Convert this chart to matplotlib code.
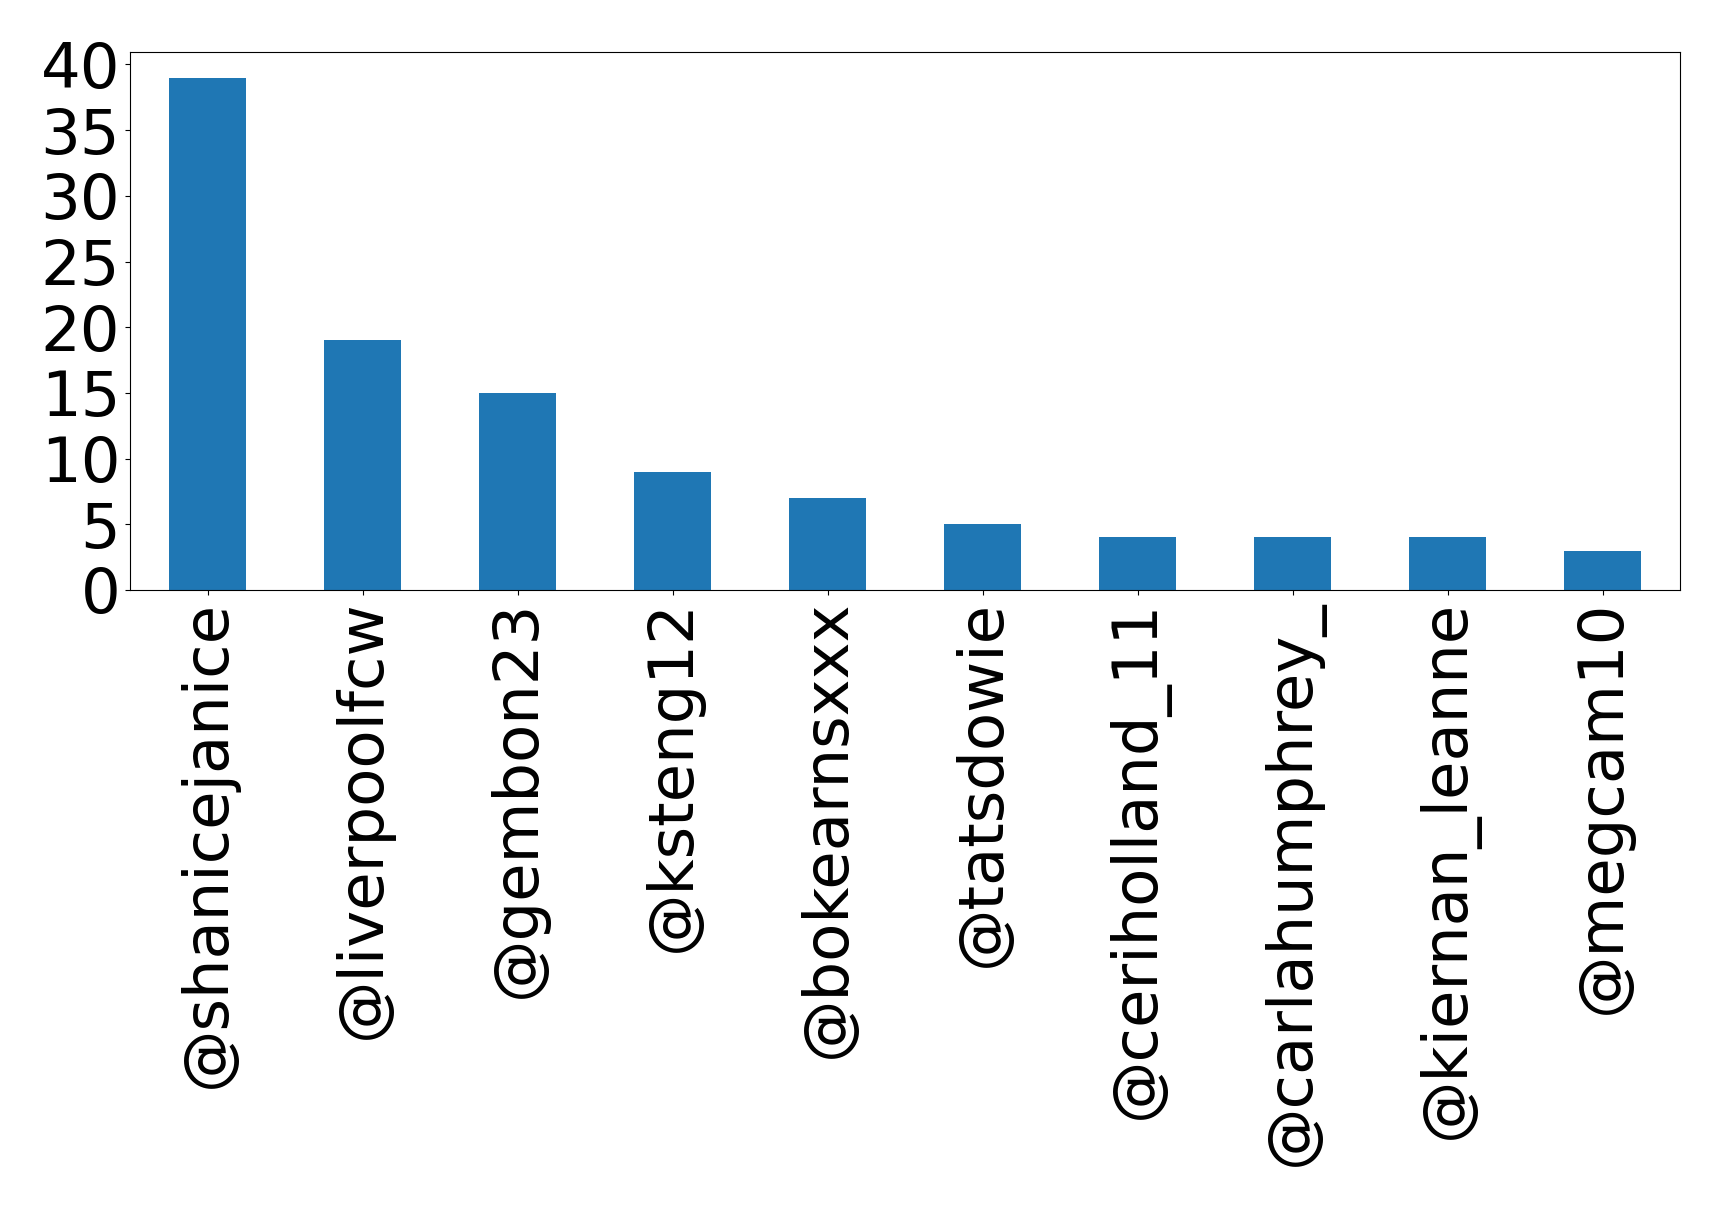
import matplotlib
matplotlib.use("Agg")
import matplotlib.pyplot as plt

users = ["@shanicejanice", "@liverpoolfcw", "@gembon23", "@ksteng12", "@bokearnsxxx",
         "@tatsdowie", "@ceriholland_11", "@carlahumphrey_", "@kiernan_leanne", "@megcam10"]
counts = [39, 19, 15, 9, 7, 5, 4, 4, 4, 3]
yticks = [0, 5, 10, 15, 20, 25, 30, 35, 40]

fig = plt.figure(figsize=(17.19, 12.06), dpi=100)
ax = fig.add_axes([130 / 1719, 1 - 590 / 1206, 1550 / 1719, 538 / 1206])
x = range(len(users))
ax.bar(x, counts, width=0.5, color="#1f77b4")
ax.set_xlim(-0.5, len(users) - 0.5)
ax.set_xticks(list(x))
ax.set_xticklabels(users, rotation=90)
ax.set_yticks(yticks)
ax.tick_params(labelsize=45)
fig.savefig("out.png", dpi=100)
